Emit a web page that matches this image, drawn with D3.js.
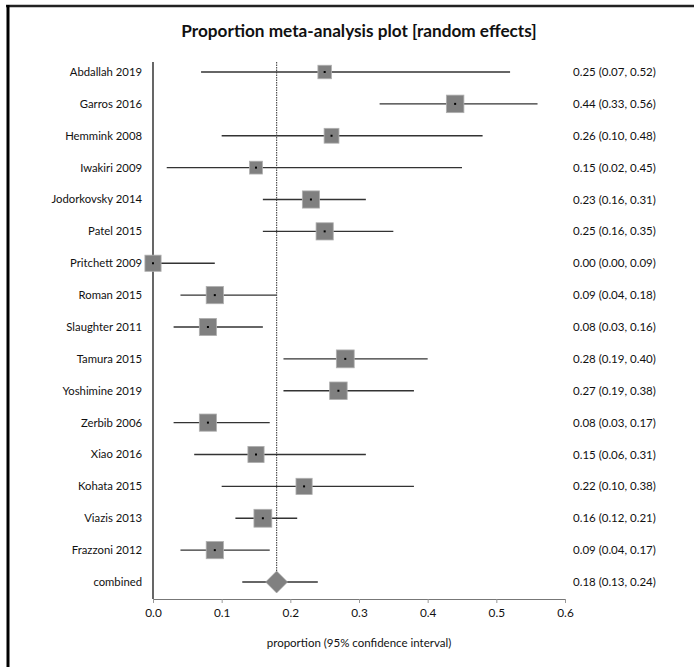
<!DOCTYPE html>
<html><head><meta charset="utf-8">
<script src="https://cdn.jsdelivr.net/npm/d3@7"></script>
<style>body{margin:0;background:#fff}svg{display:block;font-family:Lato,"Open Sans",sans-serif}</style>
</head><body><svg id="c" width="694" height="667"></svg>
<script>
const studies = ["Abdallah 2019","Garros 2016","Hemmink 2008","Iwakiri 2009","Jodorkovsky 2014","Patel 2015","Pritchett 2009","Roman 2015","Slaughter 2011","Tamura 2015","Yoshimine 2019","Zerbib 2006","Xiao 2016","Kohata 2015","Viazis 2013","Frazzoni 2012"];
const estimates = [0.25,0.44,0.26,0.15,0.23,0.25,0.00,0.09,0.08,0.28,0.27,0.08,0.15,0.22,0.16,0.09];
const lower = [0.07,0.33,0.10,0.02,0.16,0.16,0.00,0.04,0.03,0.19,0.19,0.03,0.06,0.10,0.12,0.04];
const upper = [0.52,0.56,0.48,0.45,0.31,0.35,0.09,0.18,0.16,0.40,0.38,0.17,0.31,0.38,0.21,0.17];
const weights = [5.6,6.8,6.0,5.4,6.7,6.7,6.4,6.7,6.7,6.9,6.8,6.7,6.4,6.4,6.9,6.7];
const combined = {label:"combined", est:0.18, lo:0.13, hi:0.24};
const xTicks = [0,0.1,0.2,0.3,0.4,0.5,0.6];
const title = "Proportion meta-analysis plot [random effects]";
const xLabel = "proportion (95% confidence interval)";

const svg = d3.select("#c");
const fmt = d3.format(".2f");
// frame
svg.append("line").attr("x1",6).attr("x2",694).attr("y1",6).attr("y2",6).attr("stroke","#222").attr("stroke-width",2.5);
svg.append("line").attr("x1",8).attr("x2",8).attr("y1",5).attr("y2",667).attr("stroke","#000").attr("stroke-width",3);

svg.append("text").attr("x",359).attr("y",37).attr("text-anchor","middle").attr("font-weight","bold").attr("font-size",17.2).attr("fill","#111").text(title);

const x = d3.scaleLinear().domain([0,0.6]).range([153,565]);
const rows = studies.concat([combined.label]);
const y = d3.scalePoint().domain(rows).range([72,582]);
const size = d3.scaleLinear().domain([5,7]).range([11.5,18.2]);

// axis
const axisY = 599;
const ax = svg.append("g").attr("transform",`translate(0,${axisY})`)
  .call(d3.axisBottom(x).tickValues(xTicks).tickFormat(d3.format(".1f")).tickSize(4).tickSizeOuter(0));
ax.select(".domain").attr("stroke","#777");
ax.selectAll(".tick line").attr("stroke","#999");
ax.selectAll(".tick text").attr("font-size",11.8).attr("fill","#111").attr("dy","0.95em").attr("font-family","Lato,sans-serif");

// y axis vertical line
svg.append("line").attr("x1",x(0)).attr("x2",x(0)).attr("y1",62).attr("y2",axisY).attr("stroke","#000").attr("stroke-width",1.2);
// combined dashed line
svg.append("line").attr("x1",x(combined.est)).attr("x2",x(combined.est)).attr("y1",62).attr("y2",y(combined.label))
  .attr("stroke","#555").attr("stroke-width",1.2).attr("stroke-dasharray","1.5,1");

const g = svg.append("g");
studies.forEach((s,i)=>{
  const cy = y(s);
  g.append("text").attr("x",142).attr("y",cy).attr("dy","0.35em").attr("text-anchor","end").attr("font-size",11.3).attr("fill","#111").text(s);
  g.append("line").attr("x1",x(lower[i])).attr("x2",x(upper[i])).attr("y1",cy).attr("y2",cy).attr("stroke","#333").attr("stroke-width",1.3);
  const sz = size(weights[i]);
  g.append("rect").attr("x",x(estimates[i])-sz/2).attr("y",cy-sz/2).attr("width",sz).attr("height",sz).attr("fill","#808080").attr("stroke","#b0b0b0").attr("stroke-width",0.8);
  g.append("rect").attr("x",x(estimates[i])-1).attr("y",cy-1).attr("width",2).attr("height",2).attr("fill","#000");
  g.append("text").attr("x",573).attr("y",cy).attr("dy","0.35em").attr("font-size",11.5).attr("fill","#111")
    .text(`${fmt(estimates[i])} (${fmt(lower[i])}, ${fmt(upper[i])})`);
});
// combined
{
  const cy = y(combined.label);
  g.append("text").attr("x",142).attr("y",cy).attr("dy","0.35em").attr("text-anchor","end").attr("font-size",11.3).attr("fill","#111").text(combined.label);
  g.append("line").attr("x1",x(combined.lo)).attr("x2",x(combined.hi)).attr("y1",cy).attr("y2",cy).attr("stroke","#333").attr("stroke-width",1.3);
  const cx = x(combined.est), h = 11;
  g.append("path").attr("d",`M${cx-h},${cy}L${cx},${cy-h}L${cx+h},${cy}L${cx},${cy+h}Z`).attr("fill","#808080").attr("stroke","#aaa").attr("stroke-width",0.6);
  g.append("text").attr("x",573).attr("y",cy).attr("dy","0.35em").attr("font-size",11.5).attr("fill","#111")
    .text(`${fmt(combined.est)} (${fmt(combined.lo)}, ${fmt(combined.hi)})`);
}
svg.append("text").attr("x",359).attr("y",647).attr("text-anchor","middle").attr("font-size",11.5).attr("fill","#111").text(xLabel);
</script></body></html>
